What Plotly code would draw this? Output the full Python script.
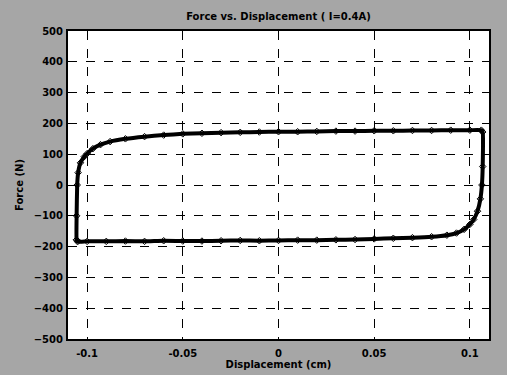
import plotly.graph_objects as go

# Hysteresis loop, traced counter-clockwise: upper branch left->right,
# right edge down, lower branch right->left, left edge back up.
displacement_cm = [
    -0.1055, -0.1055, -0.1052, -0.1047, -0.1035, -0.1015, -0.1000, -0.0970, -0.0930,
    -0.0880, -0.0800, -0.0700, -0.0600, -0.0500, -0.0400, -0.0300, -0.0200, -0.0100,
    0.0000, 0.0100, 0.0200, 0.0300, 0.0400, 0.0500, 0.0600, 0.0700, 0.0800, 0.0900,
    0.1000, 0.1060,
    0.1067, 0.1067, 0.1063, 0.1055, 0.1040, 0.1020, 0.1000, 0.0970, 0.0930, 0.0880,
    0.0800, 0.0700, 0.0600, 0.0500, 0.0400, 0.0300, 0.0200, 0.0100, 0.0000, -0.0100,
    -0.0200, -0.0300, -0.0400, -0.0500, -0.0600, -0.0700, -0.0800, -0.0900, -0.1000,
    -0.1050, -0.1055,
]
force_n = [
    -178, -100, 0, 40, 72, 92, 102, 118, 131,
    141, 150, 157, 162, 166, 168, 170, 171, 172,
    173, 173, 174, 175, 175, 176, 176, 177, 177, 178,
    178, 178,
    172, 60, 0, -45, -85, -112, -128, -144, -156, -163,
    -168, -171, -173, -175, -177, -178, -179, -179, -180, -181,
    -180, -181, -182, -182, -181, -183, -182, -183, -183,
    -184, -178,
]

x_ticks = [-0.1, -0.05, 0, 0.05, 0.1]
x_tick_text = ["-0.1", "-0.05", "0", "0.05", "0.1"]
y_ticks = [-500, -400, -300, -200, -100, 0, 100, 200, 300, 400, 500]

fig = go.Figure()
fig.add_trace(go.Scatter(
    x=displacement_cm, y=force_n, mode="lines+markers",
    line=dict(color="black", width=4, shape="spline", smoothing=0.4),
    marker=dict(symbol="diamond-open", size=5, color="black", line=dict(width=1)),
    showlegend=False,
))

text_font = dict(family="DejaVu Sans", size=10, color="black", weight="bold")
axis_common = dict(
    showline=True, linecolor="black", linewidth=2, mirror=True,
    showgrid=True, gridcolor="black", griddash="dash", gridwidth=1.2,
    zeroline=False, ticks="", tickfont=text_font, automargin=False,
)

fig.update_layout(
    width=507, height=375,
    margin=dict(l=68, r=18, t=31, b=36),
    paper_bgcolor="#a6a6a6", plot_bgcolor="white",
    font=text_font,
    title=dict(text="Force vs. Displacement ( I=0.4A)", x=0.5, xref="paper",
               y=0.957, yanchor="middle", font=text_font),
    xaxis=dict(range=[-0.11, 0.11], tickvals=x_ticks, ticktext=x_tick_text,
               ticklabelstandoff=4,
               title=dict(text="Displacement (cm)", standoff=3, font=text_font),
               **axis_common),
    yaxis=dict(range=[-500, 500], tickvals=y_ticks, ticklabelstandoff=1,
               title=dict(text="Force (N)", standoff=8, font=text_font),
               **axis_common),
)

fig.write_html("out.html")
